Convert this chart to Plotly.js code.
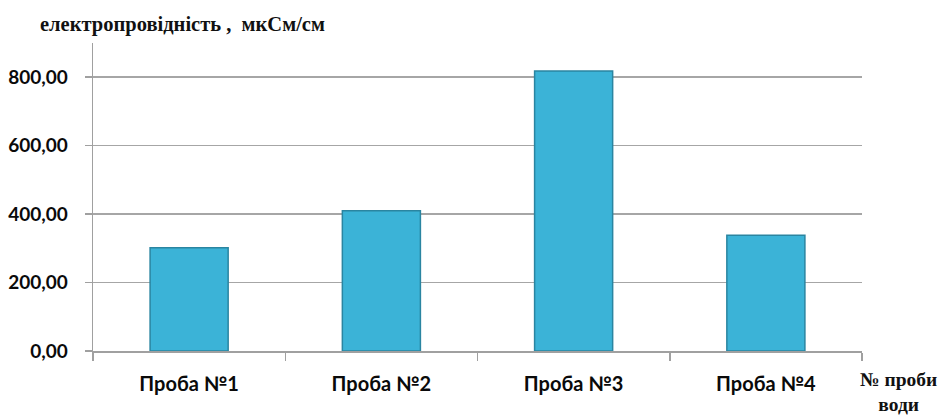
<!DOCTYPE html>
<html>
<head>
<meta charset="utf-8">
<script src="https://cdn.plot.ly/plotly-3.0.1.min.js"></script>
<style>html,body{margin:0;padding:0;background:#fff;}#chart{width:944px;height:416px;}</style>
</head>
<body>
<div id="chart"></div>
<script>
const categories = ["Проба №1", "Проба №2", "Проба №3", "Проба №4"];
const conductivity = [302, 410, 818, 338];
const yTickValues = [0, 200, 400, 600, 800];
const yTickLabels = ["0,00", "200,00", "400,00", "600,00", "800,00"];
const titleText = "електропровідність ,  мкСм/см";
const xAxisLabel = "№ проби<br>води";

const trace = {
  type: "bar",
  x: categories,
  y: conductivity,
  marker: {
    color: "#3bb3d7",
    line: { color: "#2a85a1", width: 1.5 }
  },
  hoverinfo: "x+y"
};

const layout = {
  width: 944,
  height: 416,
  margin: { l: 93, r: 82, t: 43, b: 65 },
  paper_bgcolor: "#ffffff",
  plot_bgcolor: "#ffffff",
  showlegend: false,
  bargap: 0.594,
  title: {
    text: titleText,
    font: { family: "Liberation Serif", size: 20.5, color: "#111111", weight: "bold" },
    x: 40 / 944,
    xanchor: "left",
    xref: "container",
    y: 1 - 24 / 416,
    yanchor: "middle",
    yref: "container"
  },
  xaxis: {
    type: "category",
    showline: true,
    linecolor: "#a0a0a0",
    linewidth: 1.5,
    ticks: "outside",
    tickson: "boundaries",
    ticklen: 8,
    tickcolor: "#a0a0a0",
    tickwidth: 1.5,
    showgrid: false,
    zeroline: false,
    ticklabelstandoff: 14,
    tickfont: { family: "Lato", size: 20, color: "#0a0a0a", weight: "bold" },
    fixedrange: true
  },
  yaxis: {
    range: [0, 900],
    tickvals: yTickValues,
    ticktext: yTickLabels,
    showline: true,
    linecolor: "#a0a0a0",
    linewidth: 1.5,
    ticks: "outside",
    ticklen: 7,
    tickcolor: "#a0a0a0",
    tickwidth: 1.5,
    showgrid: true,
    gridcolor: "#a6a6a6",
    gridwidth: 1.5,
    zeroline: false,
    ticklabelstandoff: 13,
    tickfont: { family: "Lato", size: 19, color: "#0a0a0a", weight: "bold" },
    fixedrange: true
  },
  annotations: [{
    text: xAxisLabel,
    xref: "paper",
    yref: "paper",
    x: (898 - 93) / 769,
    y: (351 - 392) / 308,
    xanchor: "center",
    yanchor: "middle",
    align: "center",
    showarrow: false,
    font: { family: "Liberation Serif", size: 19.5, color: "#111111", weight: "bold" }
  }]
};

Plotly.newPlot("chart", [trace], layout, { displayModeBar: false, staticPlot: true });
</script>
</body>
</html>
